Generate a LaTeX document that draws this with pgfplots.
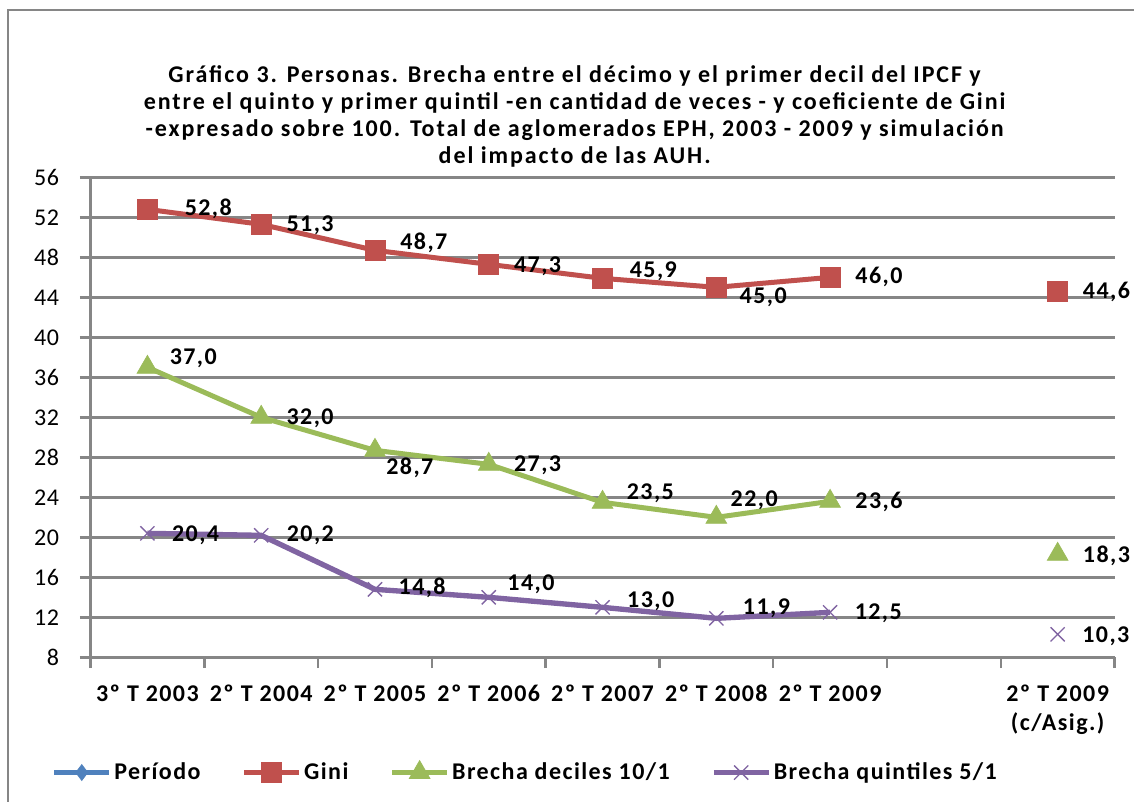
\documentclass[border=0pt]{standalone}
\usepackage{fontspec}
\setmainfont{Carlito}
\newfontfamily\spfont[LetterSpace=6]{Carlito}
\newfontfamily\ttlfont[LetterSpace=8]{Carlito}
\newfontfamily\tkfont[LetterSpace=3]{Carlito}
\usepackage{pgfplots}
\usepackage{pgfplotstable}
\pgfplotsset{compat=1.18}
\definecolor{giniRed}{RGB}{192,80,77}
\definecolor{decGreen}{RGB}{155,187,89}
\definecolor{quinPurple}{RGB}{128,100,162}
\definecolor{perBlue}{RGB}{79,129,189}
\definecolor{gridGray}{RGB}{134,134,134}

% x = category position, y = value, lab = shown label,
% dx/dy = label offset in px (dy positive = down)
\pgfplotstableread{
x   y    lab   dx  dy
0.5 52.8 52,8  37  0
1.5 51.3 51,3  25  1
2.5 48.7 48,7  25  -7
3.5 47.3 47,3  25  2
4.5 45.9 45,9  27  -7
5.5 45.0 45,0  23  10
6.5 46.0 46,0  25  0
7.5 nan  {}    0   0
8.5 44.6 44,6  25  1
}\gini
\pgfplotstableread{
x   y    lab   dx  dy
0.5 37.0 37,0  22  -9
1.5 32.0 32,0  25  1
2.5 28.7 28,7  11  17
3.5 27.3 27,3  25  1
4.5 23.5 23,5  24  -9
5.5 22.0 22,0  14  -17
6.5 23.6 23,6  25  1
7.5 nan  {}    0   0
8.5 18.3 18,3  25  1
}\deciles
\pgfplotstableread{
x   y    lab   dx  dy
0.5 20.4 20,4  24  2
1.5 20.2 20,2  25  0
2.5 14.8 14,8  23  -2
3.5 14.0 14,0  18  -13
4.5 13.0 13,0  24  -6
5.5 11.9 11,9  26  -10
6.5 12.5 12,5  24  1
7.5 nan  {}    0   0
8.5 10.3 10,3  24  2
}\quintiles

\begin{document}
\begin{tikzpicture}
\useasboundingbox (0,0) rectangle (850.5pt,-601.5pt);
\draw[gridGray, line width=1.5pt] (6pt,-610pt) -- (6pt,-7.5pt) -- (860pt,-7.5pt);
\node[align=center, font=\ttlfont\bfseries\fontsize{18}{20.25}\selectfont]
  at (431pt,-87pt)
  {Gráfico 3. Personas. Brecha entre el décimo y el primer decil del IPCF y\\
   entre el quinto y primer quintil -en cantidad de veces - y coeficiente de Gini\\
   -expresado sobre 100. Total de aglomerados EPH, 2003 - 2009 y simulación\\
   del impacto de las AUH.};
\begin{axis}[
    at={(67.9pt,-133pt)}, anchor=north west,
    scale only axis, width=768pt, height=360pt,
    xmin=0, xmax=9, ymin=8, ymax=56,
    ytick={8,12,...,56},
    xtick={0,...,9}, xticklabels={},
    extra x ticks={0.5,1.5,...,8.5},
    extra x tick labels={3º T 2003,2º T 2004,2º T 2005,2º T 2006,2º T 2007,2º T 2008,2º T 2009,{},2º T 2009\\(c/Asig.)},
    extra x tick style={major tick length=0pt, grid=none,
      xticklabel style={align=center, anchor=north, yshift=-17pt,
        font=\spfont\bfseries\fontsize{18}{21.75}\selectfont}},
    axis x line=bottom, axis y line=left,
    axis line style={-, gridGray, line width=1.8pt},
    tick style={gridGray, line width=1.8pt},
    tick align=outside, major tick length=8pt,
    ymajorgrids, grid style={gridGray, line width=1.8pt},
    yticklabel style={font=\tkfont\fontsize{18}{20}\selectfont, xshift=-12pt},
    /pgf/number format/assume math mode=true,
    unbounded coords=jump,
    clip=false,
    point meta=explicit symbolic,
    visualization depends on={\thisrow{dx}\as\dx},
    visualization depends on={\thisrow{dy}\as\dy},
    nodes near coords,
    every node near coord/.append style={anchor=west, inner sep=0pt,
      xshift=0.75*\dx pt, yshift=-0.75*\dy pt, text=black,
      font=\spfont\bfseries\fontsize{18}{20}\selectfont},
    legend columns=4,
    legend style={at={(0.425,-0.24)}, anchor=center, draw=none,
      font=\spfont\bfseries\fontsize{18}{20}\selectfont,
      /tikz/every even column/.append style={column sep=29pt}},
    legend image code/.code={\draw[mark repeat=2, mark phase=2, #1]
      plot coordinates {(0pt,0pt) (20.5pt,0pt) (41pt,0pt)};},
]
\addlegendimage{perBlue, line width=3.75pt, mark=diamond*, mark size=6pt,
  mark options={fill=perBlue, line width=0.5pt}}
\addlegendentry{Período}
\addplot[giniRed, line width=3.75pt, mark=square*, mark size=7.5pt,
  mark options={fill=giniRed, line width=0.5pt}]
  table[x=x, y=y, meta=lab] {\gini};
\addlegendentry{Gini}
\addplot[decGreen, line width=3.75pt, mark=triangle*, mark size=9pt,
  mark options={fill=decGreen, line width=0.5pt}]
  table[x=x, y=y, meta=lab] {\deciles};
\addlegendentry{Brecha deciles 10/1}
\addplot[quinPurple, line width=4pt, mark=x, mark size=7.5pt,
  mark options={line width=1pt}]
  table[x=x, y=y, meta=lab] {\quintiles};
\addlegendentry{Brecha quintiles 5/1}
\end{axis}
\end{tikzpicture}
\end{document}
